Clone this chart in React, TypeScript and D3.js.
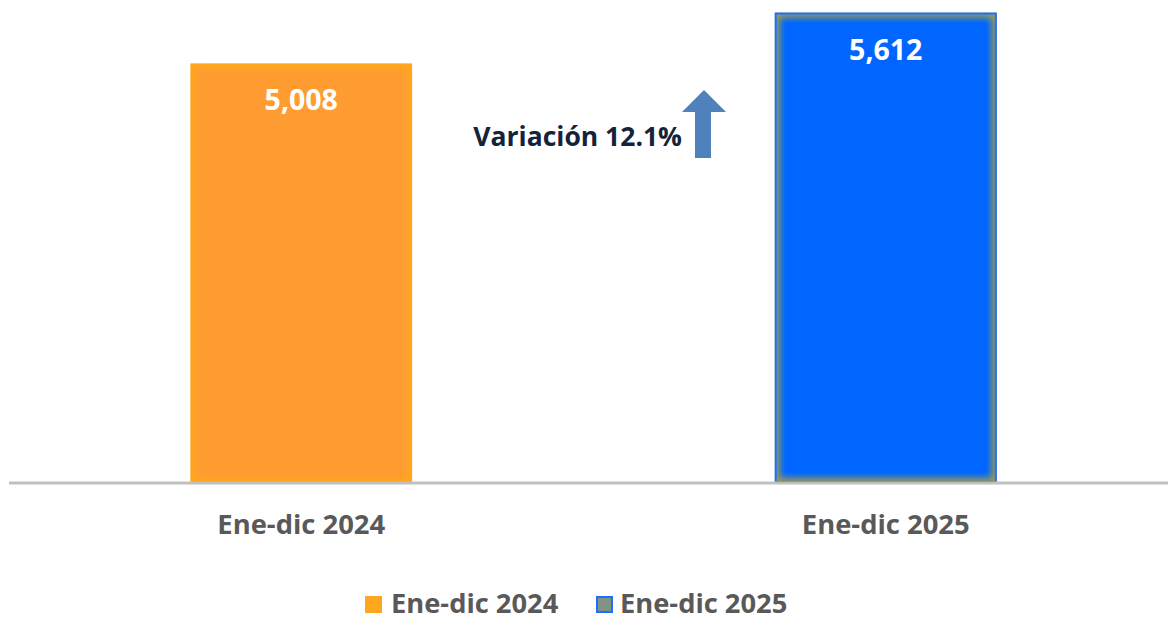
import React from "react";
import * as d3 from "d3";

const categories = ["Ene-dic 2024", "Ene-dic 2025"];
const values = [5008, 5612];
const yTicksMax = 6000;

const W = 1168;
const H = 620;
const FONT = "'Open Sans', 'Noto Sans', sans-serif";

export default function App() {
  const x = d3.scaleBand<string>().domain(categories).range([9, 1178]).paddingInner(0.62).paddingOuter(0.31);
  const y = d3.scaleLinear().domain([0, yTicksMax]).range([483, -20]);
  const bw = x.bandwidth();
  const variation = ((values[1] / values[0] - 1) * 100).toFixed(1);
  const fmt = d3.format(",");

  const x0 = x(categories[0])!;
  const x1 = x(categories[1])!;
  const h0 = y(0) - y(values[0]);
  const h1 = y(0) - y(values[1]);

  return (
    <svg width={W} height={H} style={{ position: "absolute", left: 0, top: 0 }} fontFamily={FONT}>
      <defs>
        <filter id="blurB" x="-10%" y="-10%" width="120%" height="120%">
          <feGaussianBlur stdDeviation="3.5" />
        </filter>
        <filter id="blurO" x="-10%" y="-10%" width="120%" height="120%">
          <feGaussianBlur stdDeviation="3" />
        </filter>
        <clipPath id="clipB">
          <rect x={x1} y={y(values[1])} width={bw} height={h1} />
        </clipPath>
        <clipPath id="clipO">
          <rect x={x0} y={y(values[0])} width={bw} height={h0} />
        </clipPath>
      </defs>
      <rect width={W} height={H} fill="#ffffff" />

      {/* orange bar */}
      <g clipPath="url(#clipO)">
        <rect x={x0} y={y(values[0])} width={bw} height={h0} fill="#ffa71c" />
        <rect x={x0 + 5} y={y(values[0]) + 5} width={bw - 10} height={h0 - 10} fill="#ff9c33" filter="url(#blurO)" />
      </g>
      {/* blue bar */}
      <g clipPath="url(#clipB)">
        <rect x={x1} y={y(values[1])} width={bw} height={h1} fill="#a09e48" />
        <rect x={x1 + 5} y={y(values[1]) + 5} width={bw - 10} height={h1 - 10} fill="#0066ff" filter="url(#blurB)" />
        <rect x={x1 + 10} y={y(values[1]) + 10} width={bw - 20} height={h1 - 20} fill="#0066ff" />
      </g>
      <rect x={x1 + 1} y={y(values[1]) + 1} width={bw - 2} height={h1 - 2} fill="none" stroke="#1f6fff" strokeWidth={2} />

      {/* value labels */}
      {categories.map((c, i) => (
        <text key={c} x={x(c)! + bw / 2} y={y(values[i]) + 47} textAnchor="middle" fill="#ffffff" fontSize={28.5} fontWeight={700}>
          {fmt(values[i])}
        </text>
      ))}

      {/* axis line */}
      <line x1={9} x2={W} y1={y(0)} y2={y(0)} stroke="#c0c0c0" strokeWidth={3} />

      {/* category labels */}
      {categories.map((c) => (
        <text key={c} x={x(c)! + bw / 2} y={534} textAnchor="middle" fill="#595959" fontSize={27.4} fontWeight={700}>
          {c}
        </text>
      ))}

      {/* variation annotation */}
      <text x={682} y={146} textAnchor="end" fill="#15233a" fontSize={26.5} fontWeight={700}>
        {`Variación ${variation}%`}
      </text>
      <path d="M695,158 L695,112 L682,112 L704,90 L726,112 L711,112 L711,158 Z" fill="#4f81bd" />

      {/* legend */}
      <rect x={365} y={596} width={17} height={17} fill="#ffa61f" />
      <text x={391} y={613} fill="#595959" fontSize={27.3} fontWeight={700}>{categories[0]}</text>
      <rect x={597} y={597} width={15} height={15} fill="#7f9485" stroke="#1f6fff" strokeWidth={2} />
      <text x={620} y={613} fill="#595959" fontSize={27.3} fontWeight={700}>{categories[1]}</text>
    </svg>
  );
}
